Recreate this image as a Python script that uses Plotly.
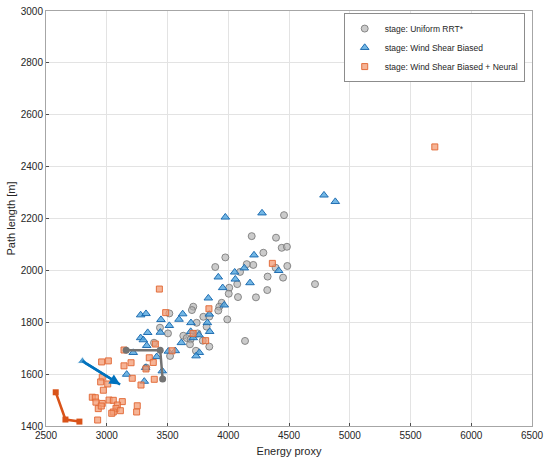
import plotly.graph_objects as go

# Uniform RRT* samples (energy proxy, path length)
uniform_energy = [
    4459, 4193, 4393, 4440, 4483, 4289, 4206, 4486, 4390, 4324, 4451, 4714,
    4321, 3976, 4152, 3893, 4097, 4008, 4074, 4004, 4080, 4228, 3946, 3926,
    3712, 3701, 3918, 3795, 3992, 4138, 3740, 3822, 3515, 3438, 3504, 3389,
    3630, 3658, 3718, 3748, 3790, 3844, 3690, 3685, 3734, 3521, 3325, 3844,
]
uniform_length = [
    2213, 2132, 2126, 2087, 2091, 2068, 2021, 2017, 2010, 1976, 1972, 1947,
    1924, 2050, 2024, 2013, 1994, 1933, 1947, 1910, 1897, 1896, 1875, 1860,
    1860, 1847, 1845, 1821, 1811, 1728, 1798, 1783, 1834, 1779, 1757, 1721,
    1748, 1739, 1753, 1757, 1729, 1706, 1734, 1715, 1690, 1670, 1625, 1822,
]

# Wind shear biased samples
wind_energy = [
    4788, 4881, 4278, 4212, 4415, 4179, 3976, 4053, 3918, 4058, 4132, 3954,
    3836, 3967, 3844, 3625, 3279, 3323, 3446, 3595, 3515, 3441, 3693, 3828,
    3847, 3691, 3759, 3712, 3337, 3279, 3301, 3329, 3614, 3218, 3507, 3564,
    3411, 3762, 3735, 3457, 3164, 3309, 3320,
]
wind_length = [
    2290, 2265, 2221, 2059, 1999, 1952, 2205, 1993, 1974, 1966, 2009, 1933,
    1893, 1866, 1831, 1832, 1828, 1833, 1810, 1811, 1787, 1761, 1798, 1798,
    1764, 1764, 1751, 1740, 1760, 1740, 1732, 1710, 1721, 1683, 1688, 1690,
    1667, 1683, 1670, 1612, 1599, 1572, 1625,
]

# Wind shear biased + neural samples
neural_energy = [
    5700, 4363, 3841, 3433, 3485, 3710, 3814, 3400, 3537, 3142, 3350, 3383,
    3200, 3142, 3323, 3210, 3391, 2958, 3013, 2963, 2950, 3008, 2972, 3282,
    2881, 2906, 2911, 2963, 3019, 3054, 2930, 2955, 3128, 3087, 3076, 3054,
    3041, 3112, 3251, 3246, 2925,
]
neural_length = [
    2476, 2027, 1852, 1928, 1837, 1757, 1729, 1716, 1690, 1693, 1663, 1645,
    1644, 1632, 1620, 1584, 1580, 1647, 1651, 1588, 1570, 1562, 1538, 1558,
    1511, 1509, 1492, 1487, 1500, 1499, 1467, 1477, 1494, 1481, 1468, 1454,
    1449, 1459, 1478, 1454, 1423,
]

# Highlighted trajectories
uniform_path_x = [3160, 3440, 3460]
uniform_path_y = [1692, 1692, 1581]
wind_path_x = [2800, 3110]
wind_path_y = [1650, 1560]
neural_path_x = [2580, 2660, 2775]
neural_path_y = [1530, 1425, 1417]

GRAY = "#737373"
BLUE = "#0072bd"
ORANGE = "#d95319"
FONT = "Liberation Sans, Arial"
TEXT = "#262626"

fig = go.Figure()

fig.add_trace(go.Scatter(
    x=uniform_energy, y=uniform_length, mode="markers",
    name="stage: Uniform RRT*",
    marker=dict(symbol="circle", size=7, color="rgba(175,175,175,0.65)",
                line=dict(color="rgba(120,120,120,0.85)", width=1)),
))
fig.add_trace(go.Scatter(
    x=wind_energy, y=wind_length, mode="markers",
    name="stage: Wind Shear Biased",
    marker=dict(symbol="triangle-up", size=7.5, color="rgba(80,165,222,0.8)",
                line=dict(color="rgba(25,105,175,0.95)", width=1)),
))
fig.add_trace(go.Scatter(
    x=neural_energy, y=neural_length, mode="markers",
    name="stage: Wind Shear Biased + Neural",
    marker=dict(symbol="square", size=6, color="rgba(243,155,115,0.75)",
                line=dict(color="rgba(226,105,55,0.95)", width=1)),
))

fig.add_trace(go.Scatter(
    x=uniform_path_x, y=uniform_path_y, mode="lines+markers", showlegend=False,
    line=dict(color=GRAY, width=2.5),
    marker=dict(symbol="circle", size=7, color=GRAY),
))
fig.add_trace(go.Scatter(
    x=wind_path_x, y=wind_path_y, mode="lines+markers", showlegend=False,
    line=dict(color=BLUE, width=2.5),
    marker=dict(symbol="triangle-up", size=[9, 0], color=BLUE),
))
fig.add_trace(go.Scatter(
    x=neural_path_x, y=neural_path_y, mode="lines+markers", showlegend=False,
    line=dict(color=ORANGE, width=2.5),
    marker=dict(symbol="square", size=6, color=ORANGE),
))

# arrowhead at the end of the wind-shear trajectory
fig.add_annotation(
    x=wind_path_x[-1], y=wind_path_y[-1], ax=wind_path_x[0], ay=wind_path_y[0],
    xref="x", yref="y", axref="x", ayref="y", text="",
    showarrow=True, arrowhead=2, arrowsize=0.85, arrowwidth=2.5, arrowcolor=BLUE,
)

axis_common = dict(
    showgrid=True, gridcolor="#e3e3e3", gridwidth=1,
    showline=True, linecolor="#a6a6a6", linewidth=1, mirror=True,
    ticks="inside", ticklen=3, tickcolor="#4d4d4d",
    zeroline=False, automargin=False,
    tickfont=dict(family=FONT, size=10, color=TEXT),
)

fig.update_xaxes(
    range=[2500, 6500], dtick=500, tickformat="d",
    title=dict(text="Energy proxy", standoff=7, font=dict(family=FONT, size=11, color=TEXT)),
    **axis_common,
)
fig.update_yaxes(
    range=[1400, 3000], dtick=200, tickformat="d",
    title=dict(text="Path length [m]", standoff=2, font=dict(family=FONT, size=11, color=TEXT)),
    **axis_common,
)

fig.update_layout(
    width=550, height=464,
    margin=dict(l=46, r=18, t=11, b=38),
    paper_bgcolor="white", plot_bgcolor="white",
    legend=dict(
        x=0.985, y=0.995, xanchor="right", yanchor="top",
        bgcolor="white", bordercolor="#8c8c8c", borderwidth=1,
        font=dict(family=FONT, size=8.5, color=TEXT),
        tracegroupgap=0, itemwidth=30,
    ),
)

# drop the default body margin so the figure sits at the window origin
fig.write_html(
    "out.html",
    config={"displayModeBar": False},
    post_script="document.body.style.margin = '0';",
)
